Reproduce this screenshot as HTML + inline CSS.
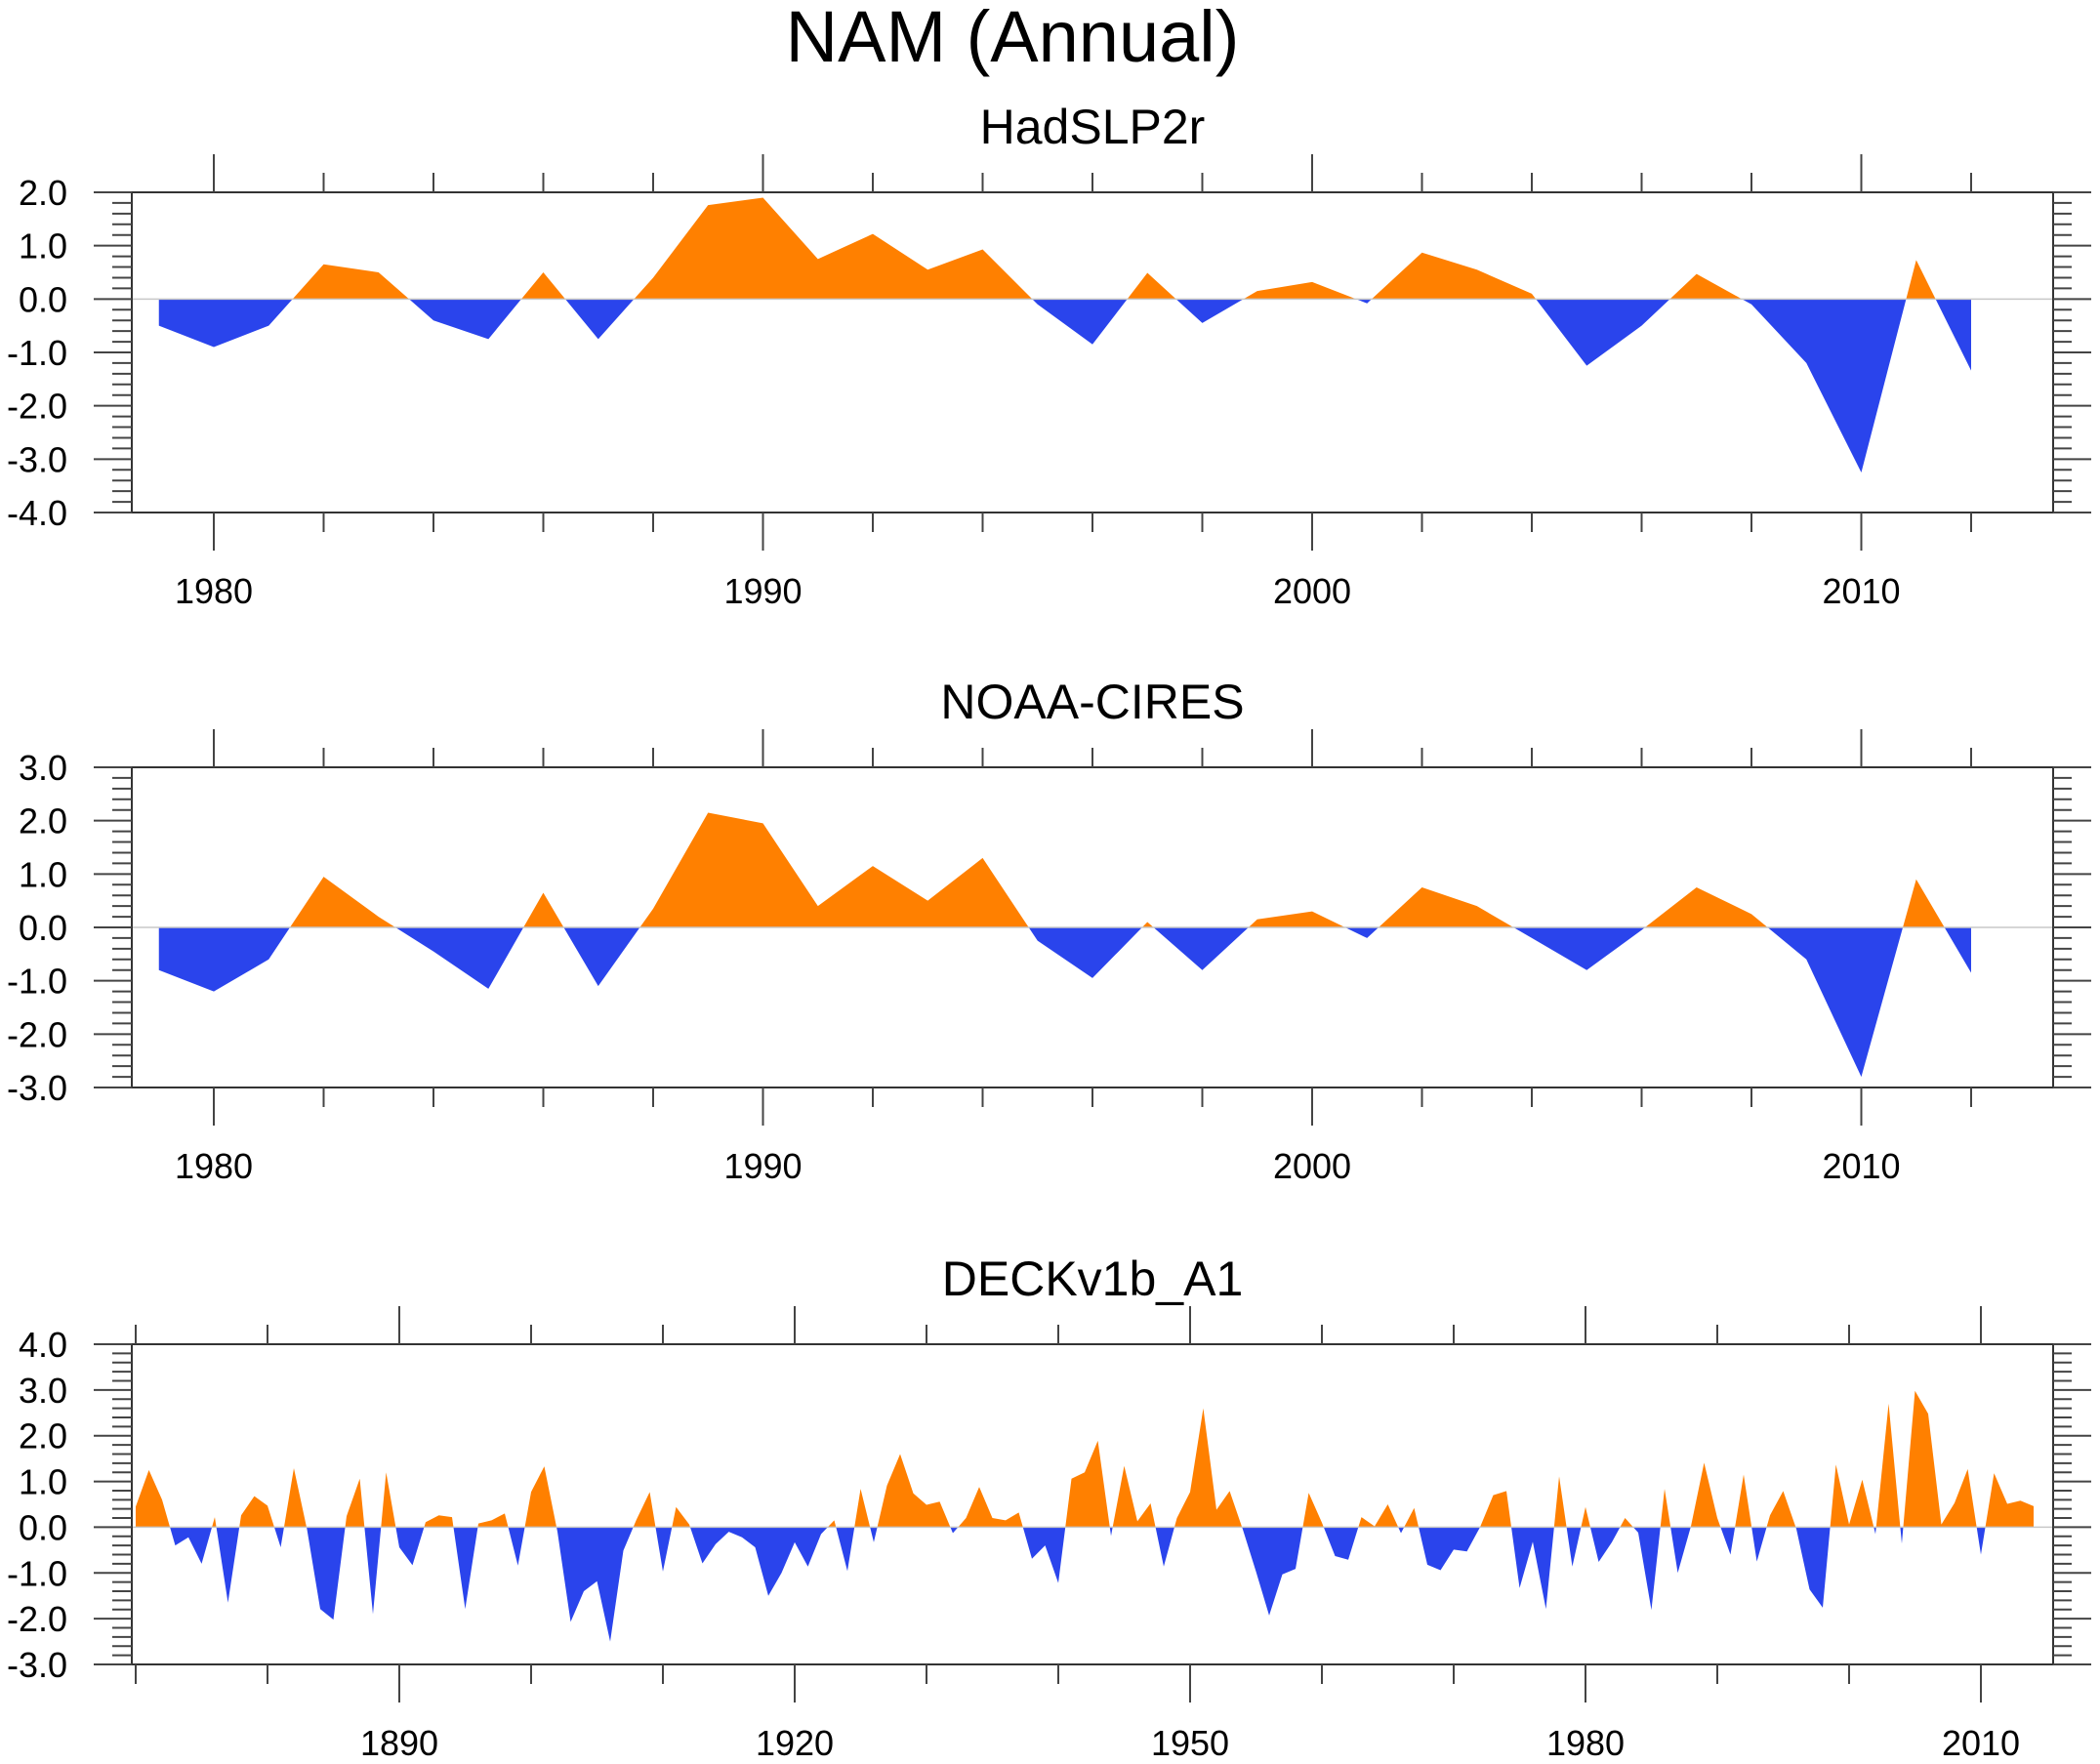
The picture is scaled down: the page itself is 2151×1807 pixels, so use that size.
<!DOCTYPE html>
<html><head><meta charset="utf-8"><style>
html,body{margin:0;padding:0;background:#fff;}
svg{display:block;}
text{font-family:"Liberation Sans",sans-serif;fill:#000;}
</style></head><body>
<svg id="chart" xmlns="http://www.w3.org/2000/svg" width="2151" height="1807" viewBox="0 0 2151 1807">
<rect width="2151" height="1807" fill="#fff"/>
<text x="1037" y="63" font-size="74" text-anchor="middle">NAM (Annual)</text>
</svg>
<script>
const hadYears0 = 1979;
const hadValues = [-0.5,-0.9,-0.5,0.65,0.5,-0.4,-0.75,0.5,-0.75,0.4,1.76,1.9,0.75,1.22,0.55,0.93,-0.1,-0.85,0.49,-0.45,0.15,0.32,-0.08,0.87,0.55,0.1,-1.25,-0.5,0.47,-0.1,-1.2,-3.25,0.73,-1.34];
const noaaYears0 = 1979;
const noaaValues = [-0.8,-1.2,-0.6,0.95,0.2,-0.45,-1.15,0.65,-1.1,0.35,2.15,1.95,0.4,1.15,0.5,1.3,-0.25,-0.95,0.1,-0.8,0.15,0.3,-0.2,0.75,0.4,-0.2,-0.8,-0.05,0.75,0.25,-0.6,-2.8,0.9,-0.85];
const deckYears0 = 1870;
const deckValues = [0.45,1.25,0.6,-0.4,-0.22,-0.8,0.22,-1.65,0.26,0.68,0.47,-0.44,1.29,-0.05,-1.79,-2.02,0.24,1.06,-1.9,1.2,
-0.44,-0.83,0.11,0.26,0.22,-1.79,0.08,0.15,0.3,-0.84,0.77,1.33,-0.1,-2.07,-1.4,-1.18,-2.5,-0.51,0.17,0.77,
-0.97,0.44,0.06,-0.79,-0.37,-0.1,-0.22,-0.44,-1.5,-1.0,-0.33,-0.86,-0.15,0.15,-0.96,0.84,-0.33,0.91,1.6,0.74,
0.49,0.56,-0.13,0.2,0.88,0.2,0.15,0.32,-0.69,-0.4,-1.22,1.06,1.2,1.89,-0.19,1.34,0.13,0.52,-0.86,0.2,
0.77,2.6,0.38,0.79,-0.05,-0.97,-1.93,-1.03,-0.91,0.75,0.1,-0.63,-0.71,0.22,0.02,0.5,-0.13,0.42,-0.82,-0.94,
-0.49,-0.53,0.0,0.7,0.79,-1.33,-0.32,-1.79,1.11,-0.86,0.44,-0.76,-0.33,0.2,-0.12,-1.81,0.84,-1.0,0.02,1.41,
0.2,-0.6,1.15,-0.75,0.26,0.79,-0.04,-1.36,-1.76,1.37,0.06,1.04,-0.15,2.7,-0.36,2.98,2.48,0.06,0.53,1.27,
-0.6,1.18,0.51,0.58,0.46];
const hadTicksY = ["2.0","1.0","0.0","-1.0","-2.0","-3.0","-4.0"];
const noaaTicksY = ["3.0","2.0","1.0","0.0","-1.0","-2.0","-3.0"];
const deckTicksY = ["4.0","3.0","2.0","1.0","0.0","-1.0","-2.0","-3.0"];
const hadTicksX = [1980,1990,2000,2010];
const deckTicksX = [1890,1920,1950,1980,2010];

const NS="http://www.w3.org/2000/svg";
const svg=document.getElementById('chart');
function mk(tag,attrs,parent){const e=document.createElementNS(NS,tag);for(const k in attrs)e.setAttribute(k,attrs[k]);(parent||svg).appendChild(e);return e;}

function panel(o){
  const g=mk('g',{});
  
  
  const L=135,R=2103,T=o.top,B=o.bottom;
  const yMax=parseFloat(o.yt[0]),yMin=parseFloat(o.yt[o.yt.length-1]);
  const ys=v=>T+(yMax-v)/(yMax-yMin)*(B-T);
  const xs=y=>o.x0+(y-o.xRef)*o.pxYear;
  const st=mk('text',{x:1119,y:T-50,'font-size':50,'text-anchor':'middle'},g);
  st.textContent=o.title;
  
  
  const vals=o.vals, n=vals.length;
  let d='M'+xs(o.y0)+','+ys(0);
  for(let i=0;i<n;i++) d+=' L'+xs(o.y0+i).toFixed(2)+','+ys(vals[i]).toFixed(2);
  d+=' L'+xs(o.y0+n-1).toFixed(2)+','+ys(0)+' Z';
  const cidA=o.name+'-above',cidB=o.name+'-below';
  const defs=mk('defs',{},g);
  const c1=mk('clipPath',{id:cidA},defs);mk('rect',{x:L,y:T,width:R-L,height:ys(0)-T},c1);
  const c2=mk('clipPath',{id:cidB},defs);mk('rect',{x:L,y:ys(0),width:R-L,height:B-ys(0)},c2);
  const pa=mk('path',{d:d,fill:'#FF8000','clip-path':'url(#'+cidA+')'},g);
  
  
  const pb=mk('path',{d:d,fill:'#2A44EC','clip-path':'url(#'+cidB+')'},g);
  
  
  const zl=mk('line',{x1:L,x2:R,y1:ys(0),y2:ys(0),stroke:'#c8c8c8','stroke-width':1.5},g);
  
  
  const fr=mk('rect',{x:L,y:T,width:R-L,height:B-T,fill:'none',stroke:'#333','stroke-width':2},g);
  
  
  const steps=Math.round((yMax-yMin)/0.2);
  for(let i=0;i<=steps;i++){
    const v=yMax-i*0.2, y=ys(v), major=(i%5===0);
    mk('line',{x1:major?96:115,x2:L,y1:y,y2:y,stroke:'#444','stroke-width':2},g);
    mk('line',{x1:R,x2:major?2142:2122,y1:y,y2:y,stroke:'#444','stroke-width':2},g);
  }
  o.yt.forEach(t=>{
    const tx=mk('text',{x:69,y:ys(parseFloat(t))+13,'font-size':36,'text-anchor':'end'},g);
    tx.textContent=t;
    
    
  });
  for(let yr=o.tickStart;xs(yr)<=R;yr+=o.minorStep){
    const x=xs(yr); if(x<L) continue;
    const major=o.xt.indexOf(yr)>=0;
    mk('line',{x1:x,x2:x,y1:T,y2:major?T-39:T-20,stroke:'#444','stroke-width':2},g);
    mk('line',{x1:x,x2:x,y1:B,y2:major?B+39:B+20,stroke:'#444','stroke-width':2},g);
  }
  o.xt.forEach(t=>{
    const tx=mk('text',{x:xs(t),y:B+93,'font-size':36,'text-anchor':'middle'},g);
    tx.textContent=String(t);
    
    
  });
}
panel({name:'hadslp2r',title:'HadSLP2r',top:197,bottom:525,yt:hadTicksY,vals:hadValues,y0:hadYears0,x0:219,xRef:1980,pxYear:56.25,xt:hadTicksX,tickStart:1978,minorStep:2});
panel({name:'noaa-cires',title:'NOAA-CIRES',top:786,bottom:1114,yt:noaaTicksY,vals:noaaValues,y0:noaaYears0,x0:219,xRef:1980,pxYear:56.25,xt:hadTicksX,tickStart:1978,minorStep:2});
panel({name:'deckv1b-a1',title:'DECKv1b_A1',top:1377,bottom:1705,yt:deckTicksY,vals:deckValues,y0:deckYears0,x0:139,xRef:1870,pxYear:13.5,xt:deckTicksX,tickStart:1870,minorStep:10});
</script>
</body></html>
